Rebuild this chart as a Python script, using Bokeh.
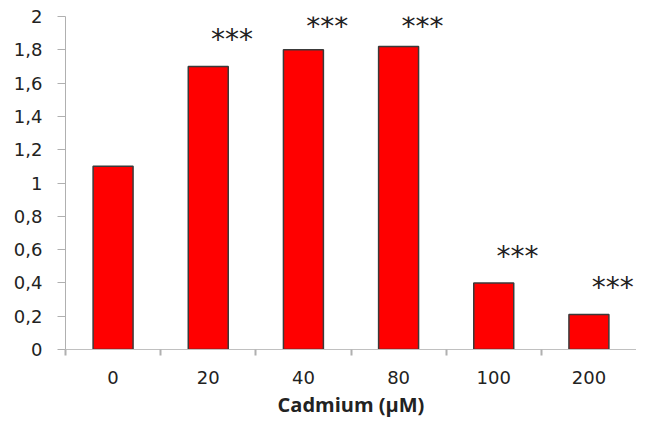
from bokeh.plotting import figure
from bokeh.models import FixedTicker, ColumnDataSource, Range1d
from bokeh.core.properties import value
from bokeh.embed import file_html
from bokeh.resources import INLINE

categories = ["0", "20", "40", "80", "100", "200"]
values = [1.10, 1.70, 1.80, 1.82, 0.40, 0.21]
significance = ["", "***", "***", "***", "***", "***"]
y_ticks = [0, 0.2, 0.4, 0.6, 0.8, 1.0, 1.2, 1.4, 1.6, 1.8, 2.0]
y_tick_labels = ["0", "0,2", "0,4", "0,6", "0,8", "1", "1,2", "1,4", "1,6", "1,8", "2"]
x_label = "Cadmium (\u00b5M)"

n = len(categories)
centers = [i + 0.5 for i in range(n)]
boundaries = [float(i) for i in range(n)]

p = figure(width=636, height=420, output_backend="svg", toolbar_location=None,
           x_range=Range1d(0, 6), y_range=Range1d(0, 2),
           min_border_left=65, min_border_right=0, min_border_top=16, min_border_bottom=68)
p.outline_line_color = None
p.xgrid.visible = False
p.ygrid.visible = False

src = ColumnDataSource(dict(x=centers, top=values))
p.vbar(x="x", top="top", width=0.42, bottom=0, source=src,
       fill_color="#ff0000", line_color="#3a3a3a", line_width=1.5)

star_src = ColumnDataSource(dict(
    x=[c + 0.25 for c in centers],
    y=[min(v + 0.16, 1.94) for v in values],
    t=significance))
p.text(x="x", y="y", text="t", source=star_src, text_align="center",
       text_baseline="middle", text_font=value("DejaVu Sans"),
       text_font_size="28px", text_color="#222222")

# y axis
p.yaxis.ticker = FixedTicker(ticks=y_ticks, minor_ticks=[])
p.yaxis.major_label_overrides = {t: l for t, l in zip(y_ticks, y_tick_labels)}
p.yaxis.axis_line_color = "#b0b0b0"
p.yaxis.major_tick_line_color = "#b0b0b0"
p.yaxis.major_tick_out = 8
p.yaxis.major_tick_in = 0
p.yaxis.major_label_standoff = 15
p.yaxis.major_label_text_font = "DejaVu Sans"
p.yaxis.major_label_text_font_size = "18px"
p.yaxis.major_label_text_color = "#222222"

# x axis
p.xaxis.ticker = FixedTicker(ticks=centers, minor_ticks=boundaries)
p.xaxis.major_label_overrides = {c: l for c, l in zip(centers, categories)}
p.xaxis.axis_line_color = "#c0c0c0"
p.xaxis.major_tick_line_color = None
p.xaxis.major_tick_out = 0
p.xaxis.major_tick_in = 0
p.xaxis.minor_tick_line_color = "#b0b0b0"
p.xaxis.minor_tick_line_width = 2
p.xaxis.minor_tick_out = 6
p.xaxis.minor_tick_in = 0
p.xaxis.major_label_standoff = 15
p.xaxis.major_label_text_font = "DejaVu Sans"
p.xaxis.major_label_text_font_size = "18px"
p.xaxis.major_label_text_color = "#222222"
p.xaxis.axis_label = x_label
p.xaxis.axis_label_text_font = "Open Sans"
p.xaxis.axis_label_text_font_style = "bold"
p.xaxis.axis_label_text_font_size = "20px"
p.xaxis.axis_label_text_color = "#222222"
p.xaxis.axis_label_standoff = 4

open("out.html", "w").write(file_html(p, INLINE))
